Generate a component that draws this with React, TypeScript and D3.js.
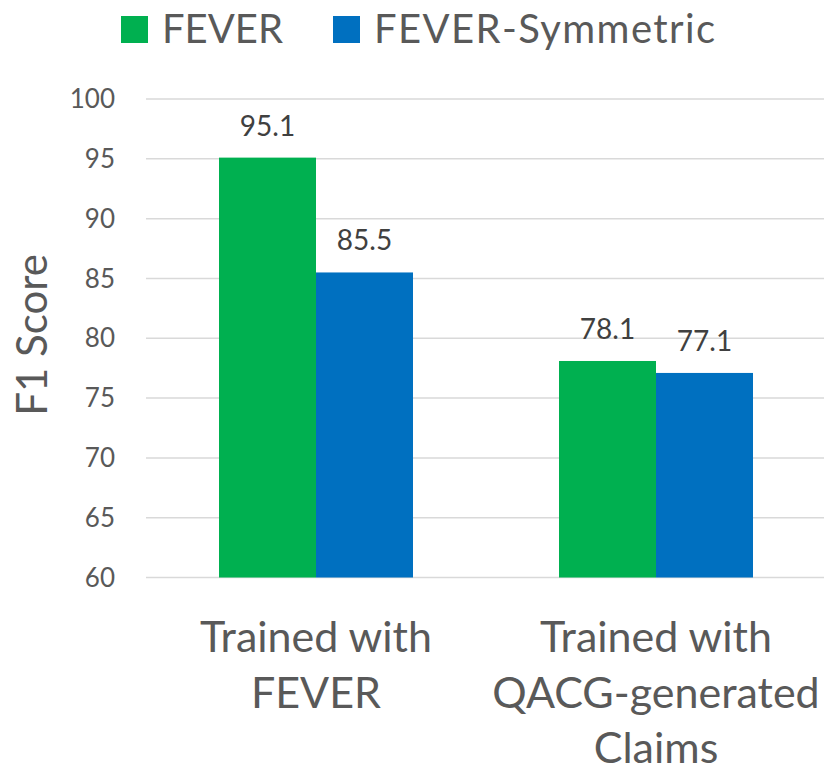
import React from "react";
import * as d3 from "d3";

const categories: string[][] = [["Trained with", "FEVER"], ["Trained with", "QACG-generated", "Claims"]];
const seriesNames = ["FEVER", "FEVER-Symmetric"];
const feverValues = [95.1, 78.1];
const symmetricValues = [85.5, 77.1];
const yTicks = [60, 65, 70, 75, 80, 85, 90, 95, 100];
const colors = ["#00B050", "#0070C0"];

const W = 824;
const H = 772;
const FONT = "Lato, 'Open Sans', sans-serif";
const TEXT = "#595959";

export default function App() {
  const x0 = d3.scaleBand<number>().domain([0, 1]).range([146, 826]).paddingInner(0).paddingOuter(0);
  const x1 = d3.scaleBand<number>().domain([0, 1]).range([0, x0.bandwidth()]).paddingInner(0).paddingOuter(0.7526);
  const y = d3.scaleLinear().domain([60, 100]).range([577.5, 99]);
  const series = [feverValues, symmetricValues];

  return (
    <svg width={W} height={H} style={{ position: "absolute", left: 0, top: 0, background: "#fff" }}>
      {/* legend */}
      <g fontFamily={FONT} fill={TEXT}>
        <rect x={121} y={16} width={27} height={27} fill={colors[0]} />
        <text x={162} y={42.5} fontSize={40}>{seriesNames[0]}</text>
        <rect x={333} y={16} width={27} height={27} fill={colors[1]} />
        <text x={374} y={42.5} fontSize={40} letterSpacing={1.4}>{seriesNames[1]}</text>
      </g>
      {/* grid + y ticks */}
      <g fontFamily={FONT}>
        {yTicks.map((t) => (
          <g key={t}>
            <line x1={146} x2={824} y1={y(t)} y2={y(t)} stroke="#d9d9d9" strokeWidth={1.5} />
            <text x={115} y={y(t)} dy="0.35em" textAnchor="end" fontSize={26} fill={TEXT}>{t}</text>
          </g>
        ))}
      </g>
      {/* y title */}
      <text transform={`translate(47,335) rotate(-90)`} textAnchor="middle" fontFamily={FONT} fontSize={42} fill={TEXT}>F1 Score</text>
      {/* bars */}
      {categories.map((_, ci) => (
        <g key={ci} transform={`translate(${x0(ci)},0)`}>
          {series.map((vals, si) => (
            <g key={si}>
              <rect x={x1(si)} y={y(vals[ci])} width={x1.bandwidth()} height={y(60) - y(vals[ci])} fill={colors[si]} />
              <text x={(x1(si) as number) + x1.bandwidth() / 2} y={y(vals[ci]) - 22} textAnchor="middle" fontFamily={FONT} fontSize={28} fill="#404040">{vals[ci].toFixed(1)}</text>
            </g>
          ))}
        </g>
      ))}
      {/* x labels */}
      <g fontFamily={FONT} fill={TEXT} fontSize={43}>
        {categories.map((lines, ci) => (
          <text key={ci} textAnchor="middle" x={(x0(ci) as number) + x0.bandwidth() / 2}>
            {lines.map((l, li) => (
              <tspan key={li} x={(x0(ci) as number) + x0.bandwidth() / 2} y={652 + li * 55.5}>{l}</tspan>
            ))}
          </text>
        ))}
      </g>
    </svg>
  );
}
